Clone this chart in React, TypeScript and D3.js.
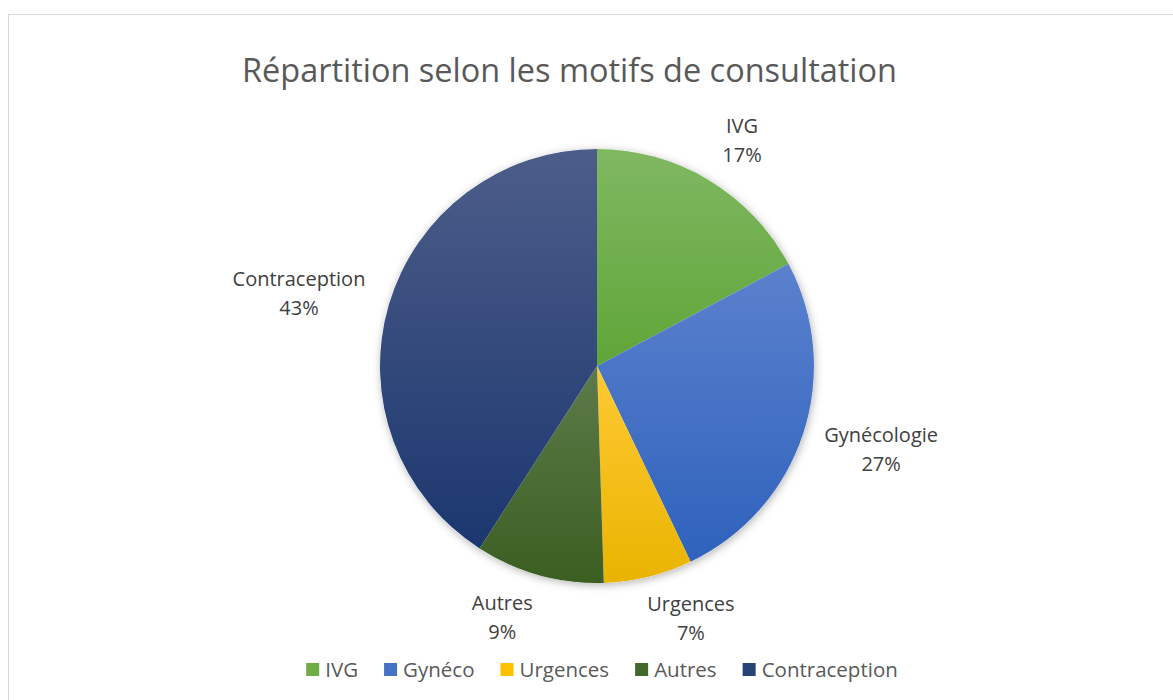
import React, { useEffect, useRef } from "react";
import * as d3 from "d3";

const categories = ["IVG", "Gynécologie", "Urgences", "Autres", "Contraception"];
const legendNames = ["IVG", "Gynéco", "Urgences", "Autres", "Contraception"];
const shares = [17.2, 25.7, 6.6, 9.6, 40.9];
const percentLabels = ["17%", "27%", "7%", "9%", "43%"];
const title = "Répartition selon les motifs de consultation";

// style / layout (not data)
const topColors = ["#80b862", "#5b81cd", "#ffc934", "#5d7b4a", "#4d5d89"];
const bottomColors = ["#60a538", "#2e62bc", "#e9b400", "#3b5e21", "#1b376f"];
const swatchColors = ["#70ad47", "#4472c4", "#ffc000", "#43682b", "#264478"];
const labelPolar = [
  [32.7, 268.5],
  [106.3, 296],
  [159.6, 269.4],
  [200.6, 269.1],
  [283.6, 306.6],
];

const W = 1173;
const H = 700;
const CX = 597;
const CY = 366;
const R = 217;
const FONT = "'Open Sans', 'Noto Sans', sans-serif";

export default function App() {
  const ref = useRef<SVGSVGElement>(null);

  useEffect(() => {
    const svg = d3.select(ref.current);
    svg.selectAll("*").remove();

    const defs = svg.append("defs");
    categories.forEach((_, i) => {
      const g = defs
        .append("linearGradient")
        .attr("id", `grad${i}`)
        .attr("x1", 0)
        .attr("y1", 0)
        .attr("x2", 0)
        .attr("y2", 1);
      g.append("stop").attr("offset", "0%").attr("stop-color", topColors[i]);
      g.append("stop").attr("offset", "100%").attr("stop-color", bottomColors[i]);
    });
    const f = defs
      .append("filter")
      .attr("id", "shadow")
      .attr("x", "-10%")
      .attr("y", "-10%")
      .attr("width", "120%")
      .attr("height", "120%");
    f.append("feDropShadow")
      .attr("dx", 1)
      .attr("dy", 2)
      .attr("stdDeviation", 4)
      .attr("flood-color", "#000")
      .attr("flood-opacity", 0.3);

    svg
      .append("rect")
      .attr("x", 8.5)
      .attr("y", 14.5)
      .attr("width", W + 20)
      .attr("height", H + 20)
      .attr("fill", "#fff")
      .attr("stroke", "#d9d9d9")
      .attr("stroke-width", 1);

    svg
      .append("text")
      .attr("x", 569.5)
      .attr("y", 82)
      .attr("text-anchor", "middle")
      .attr("font-family", FONT)
      .attr("font-size", 32)
      .attr("textLength", 655)
      .attr("lengthAdjust", "spacingAndGlyphs")
      .attr("fill", "#595959")
      .text(title);

    const pie = d3
      .pie<number>()
      .sort(null)
      .value((d) => d);
    const arcs = pie(shares);
    const arc = d3.arc<d3.PieArcDatum<number>>().innerRadius(0).outerRadius(R);

    const pg = svg.append("g").attr("transform", `translate(${CX},${CY})`);
    const shadowG = pg.append("g").attr("filter", "url(#shadow)");
    shadowG
      .append("circle")
      .attr("r", R)
      .attr("fill", "#fff");
    pg.selectAll("path.slice")
      .data(arcs)
      .join("path")
      .attr("class", "slice")
      .attr("d", arc)
      .attr("fill", (_, i) => `url(#grad${i})`);

    const lg = svg.append("g");
    categories.forEach((c, i) => {
      const [ang, rad] = labelPolar[i];
      const a = (ang * Math.PI) / 180;
      const x = CX + rad * Math.sin(a);
      const y = CY - rad * Math.cos(a);
      const t = lg
        .append("text")
        .attr("text-anchor", "middle")
        .attr("font-family", FONT)
        .attr("font-size", 20)
        .attr("fill", "#404040");
      t.append("tspan").attr("x", x).attr("y", y - 7.5).text(c);
      t.append("tspan").attr("x", x).attr("y", y + 21.5).text(percentLabels[i]);
    });

    // legend
    const leg = svg.append("g");
    const sq = 13;
    const gapIn = 6;
    const gapOut = 26;
    const items = legendNames.map((n, i) => {
      const g = leg.append("g");
      g.append("rect")
        .attr("width", sq)
        .attr("height", sq)
        .attr("y", 663)
        .attr("fill", swatchColors[i]);
      const t = g
        .append("text")
        .attr("y", 677)
        .attr("font-family", FONT)
        .attr("font-size", 20.5)
        .attr("fill", "#595959")
        .text(n);
      const w = (t.node() as SVGTextElement).getComputedTextLength();
      return { g, t, w };
    });
    const total =
      items.reduce((s, it) => s + sq + gapIn + it.w, 0) + gapOut * (items.length - 1);
    let x = 602 - total / 2;
    items.forEach((it) => {
      it.g.select("rect").attr("x", x);
      it.t.attr("x", x + sq + gapIn);
      x += sq + gapIn + it.w + gapOut;
    });
  }, []);

  return (
    <svg
      ref={ref}
      width={W}
      height={H}
      style={{ position: "fixed", left: 0, top: 0, display: "block" }}
    />
  );
}
